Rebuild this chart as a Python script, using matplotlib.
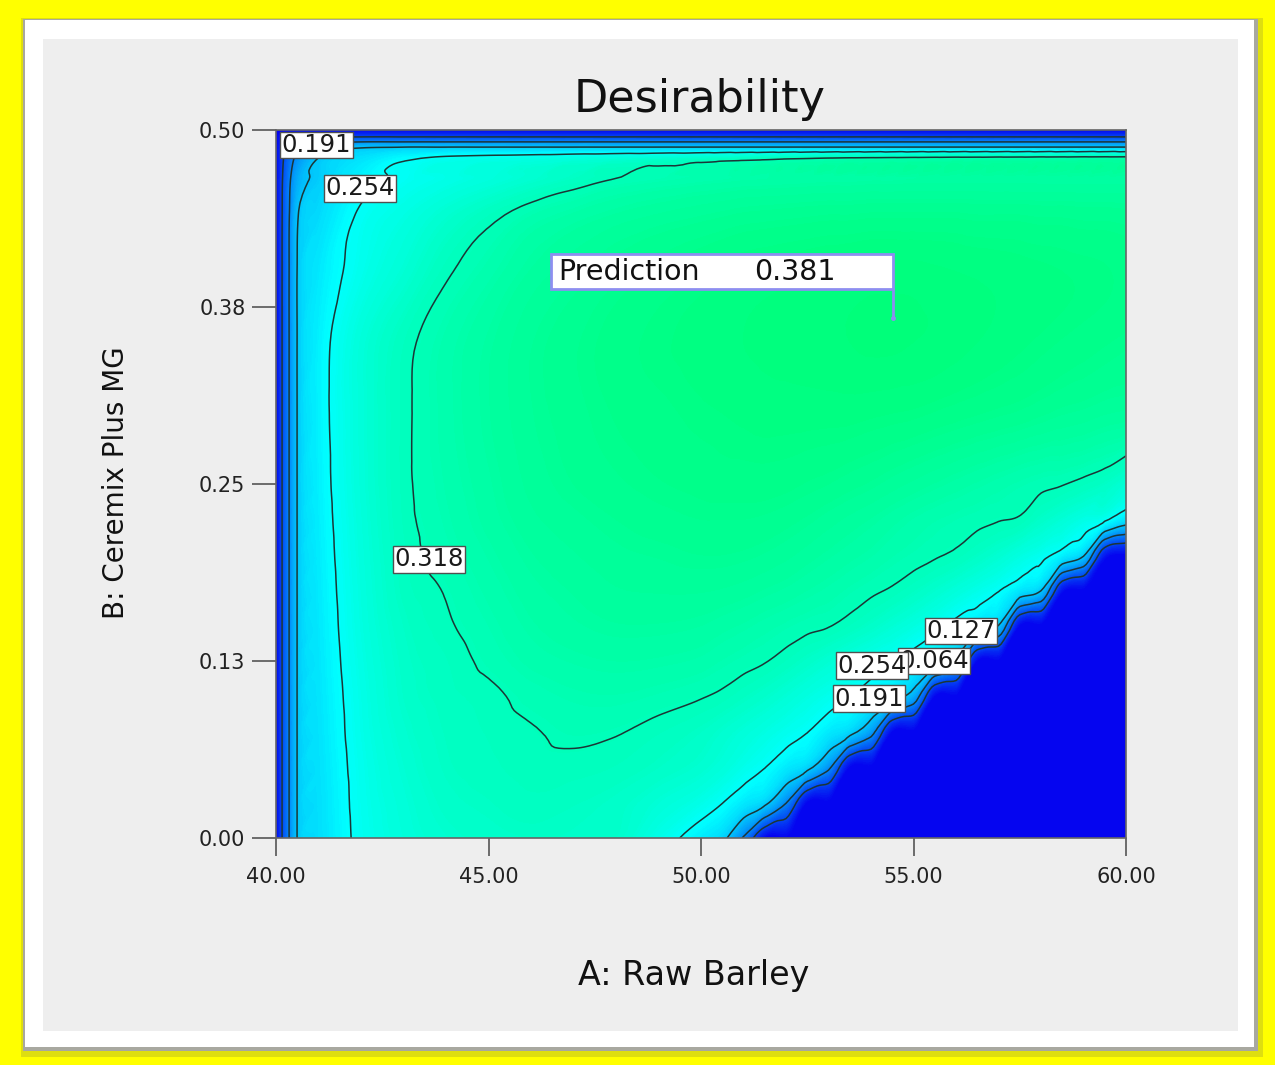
import numpy as np
import matplotlib
matplotlib.use("Agg")
import matplotlib.pyplot as plt
import matplotlib.tri as mtri
from matplotlib.colors import LinearSegmentedColormap, Normalize
from matplotlib.patches import Rectangle

# desirability on an uneven grid
# columns: A (Raw Barley), rows: B (Ceremix Plus MG)
raw_barley = [40, 40.15, 40.3, 40.5, 41, 42, 43, 44, 45, 46, 47, 48, 49, 50,
              50.5, 51, 51.5, 52, 52.5, 53, 53.5, 54, 54.5, 55, 55.5, 56,
              56.5, 57, 57.5, 58, 58.5, 59, 59.5, 60]
ceremix = [0, 0.025, 0.05, 0.075, 0.1, 0.125, 0.15, 0.175, 0.2, 0.225,
           0.25, 0.3, 0.35, 0.4, 0.44, 0.465, 0.48, 0.488, 0.492, 0.496, 0.5]

desirability = [
    [0, .067, .124, .192, .217, .263, .285, .297, .302, .305, .304, .300, .272, .232,
     .205, .121, 0, 0, 0, 0, 0, 0, 0, 0, 0, 0, 0, 0, 0, 0, 0, 0, 0, 0],
    [0, .067, .124, .192, .218, .265, .288, .302, .307, .311, .308, .303, .290, .272,
     .255, .229, .203, .130, 0, 0, 0, 0, 0, 0, 0, 0, 0, 0, 0, 0, 0, 0, 0, 0],
    [0, .067, .124, .192, .220, .267, .292, .306, .311, .315, .315, .312, .305, .295,
     .285, .270, .255, .230, .205, .140, 0, 0, 0, 0, 0, 0, 0, 0, 0, 0, 0, 0, 0, 0],
    [0, .067, .124, .192, .222, .270, .296, .308, .313, .317, .3205, .319, .313, .305,
     .297, .288, .278, .267, .255, .230, .207, .150, 0, 0, 0, 0, 0, 0, 0, 0, 0, 0, 0, 0],
    [0, .067, .124, .192, .224, .272, .300, .310, .315, .322, .326, .327, .324, .319,
     .315, .308, .300, .290, .279, .268, .255, .233, .210, .165, 0, 0, 0, 0, 0, 0, 0, 0, 0, 0],
    [0, .067, .124, .192, .226, .275, .302, .312, .321, .329, .333, .335, .334, .331,
     .327, .323, .319, .312, .303, .293, .282, .270, .258, .237, .213, .174, 0, 0, 0, 0, 0, 0, 0, 0],
    [0, .067, .124, .192, .228, .278, .305, .316, .325, .334, .339, .342, .342, .340,
     .337, .334, .330, .326, .322, .319, .312, .303, .292, .280, .265, .243, .217, .190, 0, 0, 0, 0, 0, 0],
    [0, .067, .124, .192, .230, .280, .309, .319, .329, .338, .343, .347, .348, .348,
     .347, .345, .342, .339, .335, .331, .326, .321, .316, .308, .298, .286, .272, .256, .226, .194, .012, 0, 0, 0],
    [0, .067, .124, .192, .232, .282, .311, .323, .333, .342, .347, .351, .353, .355,
     .355, .354, .352, .349, .345, .341, .337, .333, .328, .324, .320, .315, .306, .295, .280, .265, .238, .199, .020, 0],
    [0, .067, .124, .192, .234, .284, .313, .326, .337, .346, .351, .355, .358, .360,
     .360, .360, .359, .357, .354, .350, .346, .342, .337, .332, .328, .325, .322, .319, .316, .303, .290, .275, .262, .221],
    [0, .067, .124, .192, .236, .286, .314, .328, .339, .349, .355, .359, .362, .364,
     .365, .365, .365, .364, .362, .360, .357, .354, .350, .346, .342, .338, .334, .330, .326, .322, .319, .313, .305, .290],
    [0, .067, .124, .192, .238, .287, .314, .330, .342, .352, .358, .363, .366, .369,
     .370, .371, .372, .372, .372, .372, .372, .371, .370, .369, .367, .365, .363, .361, .359, .356, .353, .351, .348, .346],
    [0, .067, .124, .192, .237, .286, .312, .329, .341, .352, .359, .365, .369, .372,
     .374, .375, .376, .377, .378, .379, .380, .381, .381, .380, .379, .377, .375, .373, .371, .369, .367, .365, .363, .361],
    [0, .067, .124, .192, .228, .268, .292, .315, .330, .343, .351, .358, .363, .367,
     .369, .371, .372, .373, .374, .375, .376, .377, .377, .377, .376, .375, .374, .373, .372, .371, .370, .369, .368, .366],
    [0, .066, .122, .187, .213, .259, .277, .296, .312, .327, .336, .343, .348, .352,
     .354, .356, .357, .358, .359, .360, .360, .361, .361, .361, .361, .361, .360, .360, .360, .359, .359, .358, .358, .357],
    [0, .063, .115, .165, .200, .239, .261, .273, .284, .296, .308, .319, .325, .330,
     .332, .334, .335, .336, .337, .338, .338, .339, .339, .340, .340, .340, .340, .340, .340, .340, .340, .340, .340, .340],
    [0, .055, .100, .140, .192, .220, .247, .262, .268, .273, .280, .287, .294, .301,
     .305, .308, .311, .315, .317, .320, .322, .323, .324, .325, .326, .327, .327, .328, .328, .329, .329, .330, .330, .330],
    [0, .045, .085, .120, .160, .185] + [.190] * 28,
    [0, .035, .065, .090, .110] + [.120] * 29,
    [0, .020, .035, .045] + [.050] * 30,
    [0] * 34,
]

contour_levels = [0.064, 0.127, 0.191, 0.254, 0.318]

# contour labels as placed in the picture (0.064 sits under the 0.254 box)
label_values = [0.191, 0.254, 0.318, 0.127, 0.064, 0.254, 0.191]
label_a = [40.95, 41.98, 43.60, 56.12, 55.48, 54.02, 53.95]
label_b = [0.4894, 0.459, 0.197, 0.1462, 0.125, 0.1215, 0.0982]

pred_a, pred_b, pred_value = 54.52, 0.367, 0.381

x_ticks = [40, 45, 50, 55, 60]
x_tick_labels = ["40.00", "45.00", "50.00", "55.00", "60.00"]
y_ticks = [0, 0.125, 0.25, 0.375, 0.5]
y_tick_labels = ["0.00", "0.13", "0.25", "0.38", "0.50"]

W, H = 1275, 1065
fig = plt.figure(figsize=(W / 100, H / 100), dpi=100)
fig.patch.set_facecolor("#ffff00")


def frame_rect(x0, y0, x1, y1, color):
    r = Rectangle((x0 / W, 1 - y1 / H), (x1 - x0) / W, (y1 - y0) / H,
                  transform=fig.transFigure, facecolor=color, edgecolor="none", zorder=-10)
    fig.add_artist(r)


# framed panel with a soft shadow
frame_rect(21, 18, 1263, 1057, "#dede10")
frame_rect(23, 19, 1258, 1051, "#a8a8a0")
frame_rect(25, 20, 1254, 1047, "white")
frame_rect(43, 39, 1238, 1031, "#eeeeee")

ax = fig.add_axes([276 / W, 1 - 838 / H, 850 / W, 708 / H])

# triangulate the grid (diagonals follow the lower-right edge), smooth it for drawing
Z = np.array(desirability)
AA, BB = np.meshgrid(raw_barley, ceremix)
ny, nx = Z.shape
idx = np.arange(ny * nx).reshape(ny, nx)
ll, lr = idx[:-1, :-1].ravel(), idx[:-1, 1:].ravel()
ul, ur = idx[1:, :-1].ravel(), idx[1:, 1:].ravel()
triangles = np.concatenate([np.stack([ll, lr, ur], 1), np.stack([ll, ur, ul], 1)])
bscale = 40.0
tri = mtri.Triangulation(AA.ravel(), BB.ravel() * bscale, triangles)
interp = mtri.CubicTriInterpolator(tri, Z.ravel(), kind="geom")
tri_f, z_f = mtri.UniformTriRefiner(tri).refine_field(Z.ravel(), triinterpolator=interp, subdiv=3)
tri_plot = mtri.Triangulation(tri_f.x, tri_f.y / bscale, tri_f.triangles)

cmap = LinearSegmentedColormap.from_list(
    "desire", [(0, "#0505f0"), (0.25, "#00ffff"), (0.5, "#00ff00"),
               (0.75, "#ffff00"), (1, "#ff0000")])
ax.tricontourf(tri_plot, z_f, levels=np.linspace(0, 0.4, 161), cmap=cmap,
               norm=Normalize(0, 1), extend="both")
ax.tricontour(tri_plot, z_f, levels=contour_levels, colors="#1c3636", linewidths=1.1)

for i, (v, a, b) in enumerate(zip(label_values, label_a, label_b)):
    ax.text(a, b, f"{v:.3f}", fontsize=17.5, ha="center", va="center",
            color="#1a1a1a", zorder=5 + i,
            bbox=dict(boxstyle="square,pad=0.06", fc="white", ec="#505050", lw=1))

# prediction flag
box_left, box_bottom, box_top = pred_a - 8.05, pred_b + 0.0207, pred_b + 0.0454
flag_color = "#8e8ef0"
ax.add_patch(Rectangle((box_left, box_bottom), pred_a - box_left, box_top - box_bottom,
                       facecolor="white", edgecolor=flag_color, lw=2, zorder=12))
ax.plot([pred_a, pred_a], [box_bottom, pred_b], color=flag_color, lw=2, zorder=12)
ax.plot([pred_a], [pred_b], marker="o", ms=2.5, color=flag_color, zorder=12)
ymid = (box_bottom + box_top) / 2
ax.text(box_left + 0.17, ymid, "Prediction", fontsize=20.5, va="center",
        ha="left", color="#111111", zorder=13)
ax.text(pred_a - 3.27, ymid, f"{pred_value:.3f}", fontsize=20.5, va="center",
        ha="left", color="#111111", zorder=13)

ax.set_xlim(40, 60)
ax.set_ylim(0, 0.5)
ax.set_xticks(x_ticks)
ax.set_xticklabels(x_tick_labels)
ax.set_yticks(y_ticks)
ax.set_yticklabels(y_tick_labels)
ax.tick_params(axis="x", direction="out", length=13, width=1.2, color="#555555",
               labelsize=15, labelcolor="#222222", pad=8)
ax.tick_params(axis="y", direction="out", length=17, width=1.2, color="#555555",
               labelsize=15, labelcolor="#222222", pad=5)
for s in ax.spines.values():
    s.set_color("#666666")
    s.set_linewidth(1.2)

fig.text(700 / W, 1 - 112 / H, "Desirability", fontsize=32, ha="center",
         va="baseline", color="#111111")
fig.text(694 / W, 1 - 985 / H, "A: Raw Barley", fontsize=24, ha="center",
         va="baseline", color="#111111")
fig.text(116 / W, 1 - 483 / H, "B: Ceremix Plus MG", fontsize=20, rotation=90,
         ha="center", va="center", color="#111111")

fig.savefig("out.png", dpi=100, facecolor=fig.get_facecolor())
